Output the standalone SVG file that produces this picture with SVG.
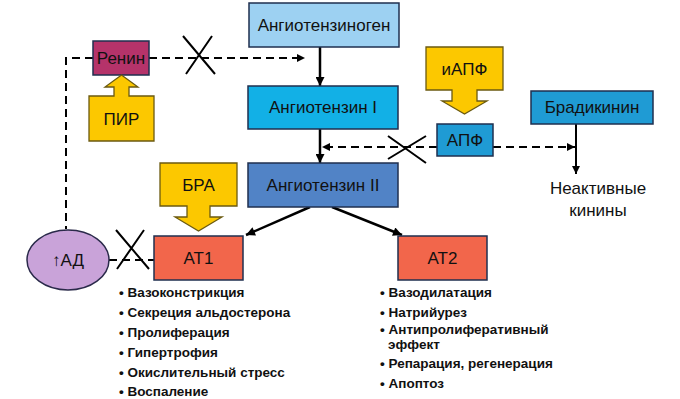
<svg xmlns="http://www.w3.org/2000/svg" width="680" height="399" viewBox="0 0 680 399">
<style>
.box{stroke:#1f2f4f;stroke-width:1.5}
.lbl{font-family:"Liberation Sans",Arial,sans-serif;font-size:17px;fill:#111;text-anchor:middle;dominant-baseline:central}
.yel{fill:#fcc800;stroke:#6b5a10;stroke-width:1.3}
.solid{stroke:#000;stroke-width:2.5;fill:none}
.dash{stroke:#000;stroke-width:2;fill:none;stroke-dasharray:8 5}
.cross{stroke:#000;stroke-width:2;fill:none}
.list{font-family:"Liberation Sans",Arial,sans-serif;font-size:13.5px;font-weight:bold;fill:#111}
</style>
<defs>
<marker id="ah" viewBox="0 0 10 10" refX="10" refY="5" markerWidth="10" markerHeight="9" markerUnits="userSpaceOnUse" orient="auto">
<path d="M0,0 L10,5 L0,10 Z" fill="#000"/>
</marker>
<marker id="ahs" viewBox="0 0 10 10" refX="10" refY="5" markerWidth="9" markerHeight="8" markerUnits="userSpaceOnUse" orient="auto">
<path d="M0,0 L10,5 L0,10 Z" fill="#000"/>
</marker>
</defs>
<rect width="680" height="399" fill="#fff"/>

<g id="connectors">
<path class="solid" d="M320,47 V86" marker-end="url(#ah)"/>
<path class="solid" d="M320,129 V163" marker-end="url(#ah)"/>
<path class="solid" d="M310,207 L246,235" marker-end="url(#ah)"/>
<path class="solid" d="M332,207 L402,235" marker-end="url(#ah)"/>
<path class="dash" d="M149,58 H305" marker-end="url(#ahs)"/>
<path class="dash" d="M93,58 H66 V229"/>
<path class="dash" d="M109,260 H154"/>
<path class="dash" d="M437,147 H322" marker-end="url(#ahs)"/>
<path class="dash" d="M493,147 H575" marker-end="url(#ahs)"/>
<path class="solid" style="stroke-width:2" d="M576,124 V174" marker-end="url(#ahs)"/>
<path class="cross" d="M183,36 L215,74 M212,36 L186,74"/>
<path class="cross" d="M116,230 L149,269 M144,230 L117,269"/>
<path class="cross" d="M388,136 L426,163 M426,136 L388,159"/>
</g>

<g id="angiotensinogen">
<rect class="box" x="249" y="3" width="150" height="44" fill="#9dd1f2"/>
<text class="lbl" x="324" y="25">Ангиотензиноген</text>
</g>
<g id="angiotensin1">
<rect class="box" x="248" y="86" width="150" height="43" fill="#12b0e6"/>
<text class="lbl" x="323" y="107.5">Ангиотензин I</text>
</g>
<g id="angiotensin2">
<rect class="box" x="248" y="163" width="150" height="44" fill="#5183c6"/>
<text class="lbl" x="323" y="185">Ангиотензин II</text>
</g>
<g id="renin">
<rect class="box" x="93" y="41" width="56" height="34" fill="#b5336a"/>
<text class="lbl" x="121" y="58">Ренин</text>
</g>
<g id="pir">
<path class="yel" d="M89,141 V96 H114 V87 H105 L121.5,75 L138,87 H129 V96 H154 V141 Z"/>
<text class="lbl" x="121.5" y="119">ПИР</text>
</g>
<g id="bra">
<path class="yel" d="M160,163 H237 V206 H210 V217 H222 L198.5,231 L175,217 H187 V206 H160 Z"/>
<text class="lbl" x="198.5" y="185">БРА</text>
</g>
<g id="iapf">
<path class="yel" d="M426,47 H503 V90 H477 V101 H487 L464.5,114 L442,101 H452 V90 H426 Z"/>
<text class="lbl" x="464.5" y="69">иАПФ</text>
</g>
<g id="apf">
<rect class="box" x="437" y="124" width="56" height="32" fill="#1f9bd4"/>
<text class="lbl" x="465" y="140">АПФ</text>
</g>
<g id="bradykinin">
<rect class="box" x="531" y="91" width="122" height="33" fill="#1f9bd4"/>
<text class="lbl" x="592" y="107.5">Брадикинин</text>
</g>
<g id="inactive-kinins">
<text class="lbl" x="598" y="188">Неактивные</text>
<text class="lbl" x="598" y="210">кинины</text>
</g>
<g id="ad">
<ellipse cx="68" cy="260" rx="41" ry="30" fill="#c9a3d9" stroke="#2a2a4a" stroke-width="1.5"/>
<text class="lbl" x="68" y="260">↑АД</text>
</g>
<g id="at1">
<rect class="box" x="154" y="236" width="89" height="44" fill="#f2664b"/>
<text class="lbl" x="198.5" y="258">АТ1</text>
</g>
<g id="at2">
<rect class="box" x="398" y="236" width="89" height="44" fill="#f2664b"/>
<text class="lbl" x="442.5" y="258">АТ2</text>
</g>
<g id="at1-effects" class="list">
<text x="119" y="297">• Вазоконстрикция</text>
<text x="119" y="317">• Секреция альдостерона</text>
<text x="119" y="337">• Пролиферация</text>
<text x="119" y="357">• Гипертрофия</text>
<text x="119" y="377">• Окислительный стресс</text>
<text x="119" y="396">• Воспаление</text>
</g>
<g id="at2-effects" class="list">
<text x="380" y="297">• Вазодилатация</text>
<text x="380" y="317">• Натрийурез</text>
<text x="380" y="334">• Антипролиферативный</text>
<text x="388" y="349">эффект</text>
<text x="380" y="368">• Репарация, регенерация</text>
<text x="380" y="388">• Апоптоз</text>
</g>
</svg>
